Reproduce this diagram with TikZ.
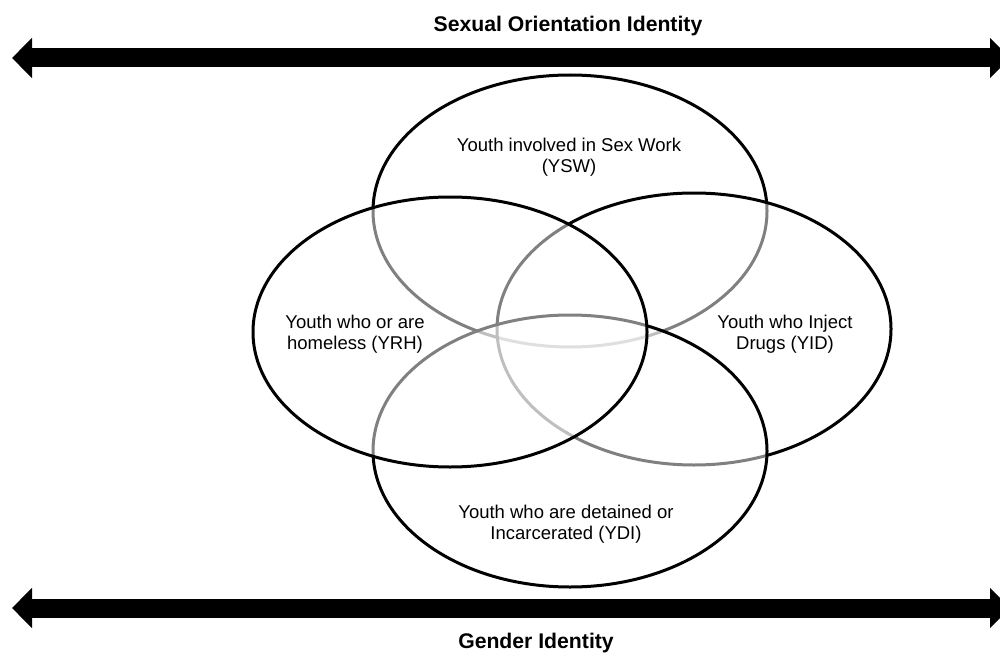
\documentclass[tikz,border=0pt]{standalone}
\usepackage{fontspec}
\setmainfont{Liberation Sans}
\usetikzlibrary{arrows.meta}
\begin{document}
\begin{tikzpicture}[x=1pt,y=-1pt,
  setell/.style={draw=black,line width=3pt,fill=white,fill opacity=0.5},
  lbl/.style={align=center,font=\fontsize{18.5}{21.5}\selectfont,text=black,inner sep=0pt},
  ttl/.style={font=\bfseries\fontsize{21.2}{24}\selectfont,inner sep=0pt},
  bigarrow/.style={line width=19pt,{Triangle[length=20pt,width=39pt]}-{Triangle[length=20pt,width=39pt]}}]
\clip (0,0) rectangle (1000,655);
\fill[white] (0,0) rectangle (1000,655);
% arrows
\coordinate (tl) at (12,58);
\coordinate (tr) at (1010,58);
\coordinate (bl) at (12,608);
\coordinate (br) at (1010,608);
\draw[bigarrow] (tl) -- (tr);
\draw[bigarrow] (bl) -- (br);
% ellipses (bottom to top)
\draw[setell] (570,211) ellipse [x radius=197, y radius=136];
\draw[setell] (694,329) ellipse [x radius=197, y radius=136];
\draw[setell] (570,451) ellipse [x radius=197, y radius=136];
\draw[setell] (450,332) ellipse [x radius=197, y radius=135];
% labels
\node[ttl] (t1) at (568,26) {Sexual Orientation Identity};
\node[ttl] (t2) at (536,643) {Gender Identity};
\node[lbl] (ysw) at (569,157) {Youth involved in Sex Work\\(YSW)};
\node[lbl] (yrh) at (355,334) {Youth who or are\\homeless (YRH)};
\node[lbl] (yid) at (785,334) {Youth who Inject\\Drugs (YID)};
\node[lbl] (ydi) at (566,524) {Youth who are detained or\\Incarcerated (YDI)};
\end{tikzpicture}
\end{document}
